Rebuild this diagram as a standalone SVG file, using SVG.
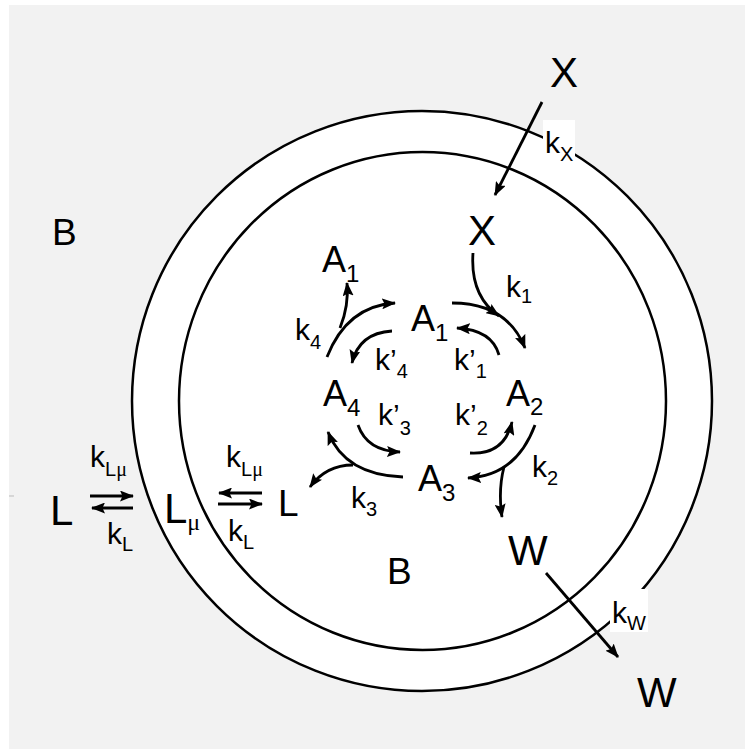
<svg xmlns="http://www.w3.org/2000/svg" width="745" height="749" viewBox="0 0 745 749">
<style>
text{font-family:"Liberation Sans",Arial,sans-serif;fill:#000}
.big{font-size:42px}
.bb{font-size:37px}
.a{font-size:36px}
.k{font-size:30px}
.s{font-size:24px}
.ks{font-size:20px}
.mu{font-family:"Liberation Serif","Times New Roman",serif}
.ring{fill:#fff;stroke:#000;stroke-width:2.5}
.ar{fill:none;stroke:#000;stroke-width:2.8;marker-end:url(#ah)}
</style>
<defs>
<marker id="ah" viewBox="0 0 14 11" refX="13" refY="5.5" markerWidth="14" markerHeight="11" markerUnits="userSpaceOnUse" orient="auto">
<path d="M0,0 L14,5.5 L0,11 L2.5,5.5 z" fill="#000"/>
</marker>
</defs>
<rect x="0" y="0" width="745" height="749" fill="#fff"/>
<rect x="9" y="5" width="736" height="744" fill="#f2f2f2"/>
<line x1="9" y1="496" x2="14" y2="496" stroke="#bbb" stroke-width="1"/>
<g id="membrane">
<circle class="ring" cx="422" cy="401" r="290"/>
<ellipse class="ring" cx="422.5" cy="401" rx="243.5" ry="249"/>
<rect x="543" y="120" width="32" height="45" fill="#fff"/>
<rect x="610" y="589" width="38" height="43" fill="#fff"/>
</g>
<g id="connectors">
<path class="ar" d="M542,102 L495,195"/>
<path class="ar" d="M546,573 L618,657"/>
<path class="ar" d="M473,253 Q470,296 499,316"/>
<path class="ar" d="M452,303 Q507,303 525,348"/>
<path class="ar" d="M499,355 Q492,330 457,328"/>
<path class="ar" d="M327,357 Q347,306 395,303"/>
<path class="ar" d="M340,328 Q349,306 347,283"/>
<path class="ar" d="M392,331 Q359,333 352,363"/>
<path class="ar" d="M358,425 Q367,451 400,452"/>
<path class="ar" d="M470,453 Q504,455 512,422"/>
<path class="ar" d="M535,425 Q516,476 468,478"/>
<path class="ar" d="M504,467 Q498,490 502,517"/>
<path class="ar" d="M403,477 Q345,475 328,432"/>
<path class="ar" d="M353,465 Q326,465 310,487"/>
<path class="ar" d="M90,496 L133,496"/>
<path class="ar" d="M133,508 L92,508"/>
<path class="ar" d="M262,493 L219,493"/>
<path class="ar" d="M218,504 L262,504"/>
</g>
<g id="X-out"><text class="big" x="550" y="87">X</text></g>
<g id="kX"><text class="k" x="545" y="153">k<tspan class="ks" y="161">X</tspan></text></g>
<g id="B-out"><text class="bb" x="52" y="245">B</text></g>
<g id="X-in"><text class="big" x="468" y="245">X</text></g>
<g id="A1-out"><text class="a" x="322" y="272">A<tspan class="s" y="282">1</tspan></text></g>
<g id="k1"><text class="k" x="506" y="297">k<tspan class="ks" y="303">1</tspan></text></g>
<g id="A1"><text class="a" x="411" y="331">A<tspan class="s" y="341">1</tspan></text></g>
<g id="k4"><text class="k" x="295" y="340">k<tspan class="ks" y="349">4</tspan></text></g>
<g id="kp4"><text class="k" x="375" y="370">k’<tspan class="ks" y="378">4</tspan></text></g>
<g id="kp1"><text class="k" x="454" y="370">k’<tspan class="ks" y="378">1</tspan></text></g>
<g id="A2"><text class="a" x="506" y="406">A<tspan class="s" y="415">2</tspan></text></g>
<g id="A4"><text class="a" x="323" y="406">A<tspan class="s" y="416">4</tspan></text></g>
<g id="kp3"><text class="k" x="378" y="425">k’<tspan class="ks" y="435">3</tspan></text></g>
<g id="kp2"><text class="k" x="455" y="425">k’<tspan class="ks" y="435">2</tspan></text></g>
<g id="k2"><text class="k" x="532" y="477">k<tspan class="ks" y="485">2</tspan></text></g>
<g id="A3"><text class="a" x="418" y="491">A<tspan class="s" y="501">3</tspan></text></g>
<g id="k3"><text class="k" x="351" y="508">k<tspan class="ks" y="516">3</tspan></text></g>
<g id="kLmu-out"><text class="k" x="90" y="467">k<tspan class="ks" y="476">L</tspan><tspan class="ks mu" y="476">μ</tspan></text></g>
<g id="kLmu-in"><text class="k" x="226" y="467">k<tspan class="ks" y="476">L</tspan><tspan class="ks mu" y="476">μ</tspan></text></g>
<g id="L-out"><text class="big" x="50" y="525">L</text></g>
<g id="Lmu"><text class="big" x="164" y="523">L<tspan class="s mu" y="530">μ</tspan></text></g>
<g id="L-in"><text class="bb" x="278" y="516">L</text></g>
<g id="kL-out"><text class="k" x="107" y="544">k<tspan class="ks" y="551">L</tspan></text></g>
<g id="kL-in"><text class="k" x="228" y="541">k<tspan class="ks" y="549">L</tspan></text></g>
<g id="W-in"><text class="big" x="508" y="565">W</text></g>
<g id="B-in"><text class="bb" x="387" y="584">B</text></g>
<g id="kW"><text class="k" x="612" y="623">k<tspan class="ks" y="630">W</tspan></text></g>
<g id="W-out"><text class="big" x="637" y="707">W</text></g>
</svg>
